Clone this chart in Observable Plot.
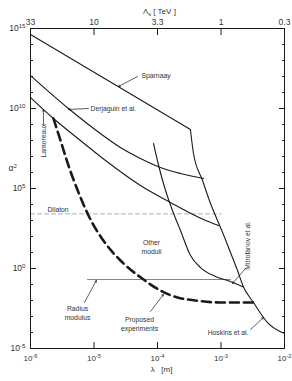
<!DOCTYPE html>
<html><head><meta charset="utf-8">
<script src="https://cdn.jsdelivr.net/npm/d3@7"></script>
<script src="https://cdn.jsdelivr.net/npm/@observablehq/plot@0.6"></script>
<style>html,body{margin:0;padding:0;background:#fff;} svg{display:block}</style>
</head><body><div id="chart"></div>
<script>
// ---- data (λ in metres, α² dimensionless) ----
const sparnaayLambda = [1e-6, 3.3e-4];
const sparnaayAlpha  = [4.2e14, 4.9e8];
const hoskinsLambda = [3.3e-4, 3.69e-4, 5.12e-4, 6.84e-4, 8.81e-4, 1.06e-3, 1.41e-3, 1.82e-3, 2.26e-3, 3.25e-3, 5.4e-3, 1e-2];
const hoskinsAlpha  = [4.9e8, 1.54e7, 3.16e5, 1.15e4, 1000, 178, 10, 0.75, 0.07, 7.5e-3, 4.2e-4, 8.7e-5];
const derjaguinLambda = [1e-6, 3.96e-6, 1.26e-5, 2.61e-5, 5.39e-5, 1.11e-4, 2.30e-4, 5.30e-4];
const derjaguinAlpha  = [1.15e12, 1e10, 2.74e8, 3.65e7, 7.5e6, 2.05e6, 8.66e5, 4.2e5];
const lamoreauxLambda = [1e-6, 2.30e-6, 6.12e-6, 1.52e-5, 5.39e-5, 1.60e-4, 5.30e-4, 9.14e-4];
const lamoreauxAlpha  = [4.87e10, 2.37e9, 1e8, 5.6e6, 1.54e5, 1.33e4, 1155, 487];
const mitrofanovLambda = [8.65e-5, 1.04e-4, 1.34e-4, 1.72e-4, 2.30e-4, 3.31e-4, 4.76e-4, 8.19e-4, 1.41e-3, 2.26e-3];
const mitrofanovAlpha  = [6.5e7, 2.74e6, 7.5e4, 4217, 237, 6.5, 1.15, 0.316, 0.154, 0.07];
const proposedLambda = [2.30e-6, 2.97e-6, 3.96e-6, 5.70e-6, 8.19e-6, 1.52e-5, 2.61e-5, 6.03e-5, 1.11e-4, 2.06e-4, 3.96e-4, 9.8e-4, 3.25e-3];
const proposedAlpha  = [2.37e9, 1e8, 2.74e6, 5.6e4, 2053, 36.5, 3.16, 0.205, 0.042, 0.0154, 0.01, 7.5e-3, 7.5e-3];
const dilatonLambda = [1e-6, 1e-3];
const dilatonAlpha  = [2600, 2600];
const radiusLambda = [7.9e-6, 1.41e-3];
const radiusAlpha  = [0.205, 0.205];

// ---- ticks ----
const xTicks = [1e-6, 1e-5, 1e-4, 1e-3, 1e-2];
const xInnerTicks = [1e-5, 1e-4, 1e-3];
const tevLabels = ["33", "10", "3.3", "1", "0.3"];
const yLabelTicks = [1e-5, 1, 1e5, 1e10, 1e15];
const yMajorTicks = [1, 1e5, 1e10];
const yMinorTicks = [1e-4,1e-3,1e-2,1e-1,1e1,1e2,1e3,1e4,1e6,1e7,1e8,1e9,1e11,1e12,1e13,1e14];

// ---- annotations ----
const labelsStart = [
  {text: "Sparnaay", x: 5.6e-5, y: 1.15e12},
  {text: "Derjaguin et al.", x: 8.8e-6, y: 1e10},
  {text: "Dilaton", x: 1.85e-6, y: 4.9e3}
];
const labelsMiddle = [
  {text: "Other\nmoduli", x: 8.05e-5, y: 22},
  {text: "Radius\nmodulus", x: 5.5e-6, y: 1.65e-3},
  {text: "Proposed\nexperiments", x: 5.21e-5, y: 3.65e-4}
];
const labelsEnd = [
  {text: "Hoskins et al.", x: 2.71e-3, y: 1e-4}
];
const vlabels = [
  {text: "Lamoreaux", x: 1.6e-6, y: 1e8},
  {text: "Mitrofanov et al.", x: 2.61e-3, y: 27.4}
];
const arrows = [
  {x1: 4.84e-5, y1: 1e12, x2: 2.43e-5, y2: 2.37e11},
  {x1: 8.19e-6, y1: 1e10, x2: 3.96e-6, y2: 8.7e9},
  {x1: 1.6e-6, y1: 1e9, x2: 1.6e-6, y2: 8.7e9},
  {x1: 7.08e-6, y1: 7.5e-3, x2: 1.09e-5, y2: 0.178},
  {x1: 7.76e-5, y1: 2.05e-3, x2: 1.24e-4, y2: 0.0237},
  {x1: 2.43e-3, y1: 1, x2: 1.52e-3, y2: 0.115},
  {x1: 2.92e-3, y1: 1.54e-4, x2: 4.67e-3, y2: 8.7e-4}
];

const series = (name, L, A) => L.map((l, i) => ({name, lambda: l, alpha: A[i]}));
const solid = [
  ...series("Sparnaay", sparnaayLambda, sparnaayAlpha),
  ...series("Hoskins", hoskinsLambda, hoskinsAlpha),
  ...series("Derjaguin", derjaguinLambda, derjaguinAlpha),
  ...series("Lamoreaux", lamoreauxLambda, lamoreauxAlpha),
  ...series("Mitrofanov", mitrofanovLambda, mitrofanovAlpha)
];
const proposed = series("Proposed", proposedLambda, proposedAlpha);
const dilaton = series("Dilaton", dilatonLambda, dilatonAlpha);
const radius = series("Radius", radiusLambda, radiusAlpha);

const ink = "#1a1a1a";
const textInk = "#333";
const fmtPow = d => `10^{${Math.round(Math.log10(d))}}`;
const tevFmt = d => tevLabels[xTicks.findIndex(t => Math.abs(Math.log10(t) - Math.log10(d)) < 1e-6)];
const tk = {fill: "none", stroke: ink, label: null};
const annFont = 6.8;
const ann = {x: "x", y: "y", text: "text", fontSize: annFont, fill: textInk, lineHeight: 1.3};

const svg = Plot.plot({
  width: 292, height: 381,
  marginTop: 28, marginBottom: 33, marginLeft: 30, marginRight: 8,
  style: {fontFamily: "'Liberation Sans', Arial, sans-serif", background: "#fff", color: ink},
  x: {type: "log", domain: [1e-6, 1e-2]},
  y: {type: "log", domain: [1e-5, 1e15]},
  marks: [
    Plot.line(dilaton, {x: "lambda", y: "alpha", stroke: "#999", strokeWidth: 0.8, strokeDasharray: "4,3"}),
    Plot.line(radius, {x: "lambda", y: "alpha", stroke: "#666", strokeWidth: 0.8}),
    Plot.line(solid, {x: "lambda", y: "alpha", z: "name", stroke: ink, strokeWidth: 1.1, curve: "monotone-x"}),
    Plot.line(proposed, {x: "lambda", y: "alpha", stroke: ink, strokeWidth: 2.6, strokeDasharray: "9,5", curve: "monotone-x"}),
    Plot.frame({stroke: ink, strokeWidth: 1}),
    Plot.axisY(yMinorTicks, {anchor: "left", tickSize: -3, ...tk}),
    Plot.axisY(yMajorTicks, {anchor: "left", tickSize: -6, ...tk}),
    Plot.axisY(yMinorTicks, {anchor: "right", tickSize: -3, ...tk}),
    Plot.axisY(yMajorTicks, {anchor: "right", tickSize: -6, ...tk}),
    Plot.axisX(xInnerTicks, {anchor: "bottom", tickSize: -6, ...tk}),
    Plot.axisX(xInnerTicks, {anchor: "top", tickSize: -6, ...tk}),
    Plot.axisY(yLabelTicks, {anchor: "left", tickSize: 0, tickPadding: 5, tickFormat: fmtPow, fontSize: 8.5, fill: textInk, label: null}),
    Plot.axisX(xTicks, {anchor: "bottom", tickSize: 0, tickPadding: 7, tickFormat: fmtPow, fontSize: 8, fill: textInk, label: null}),
    Plot.axisX(xTicks, {anchor: "top", tickSize: 0, tickPadding: 4, tickFormat: tevFmt, fontSize: 8.5, fill: textInk, label: null}),
    Plot.text(["Λ_{s} [ TeV ]"], {x: () => 1.07e-4, frameAnchor: "top", dy: -20, text: d => d, fontSize: 8, fill: textInk}),
    Plot.text(["λ\u00a0\u00a0\u00a0[m]"], {x: () => 1.16e-4, frameAnchor: "bottom", dy: 23, text: d => d, fontSize: 8, fill: textInk}),
    Plot.text(["α^{2}"], {y: () => 1.78e6, frameAnchor: "left", dx: -22, text: d => d, fontSize: 8.5, fill: textInk}),
    Plot.text(labelsStart, {...ann, textAnchor: "start"}),
    Plot.text(labelsMiddle, {...ann, textAnchor: "middle"}),
    Plot.text(labelsEnd, {...ann, textAnchor: "end"}),
    Plot.text(vlabels, {...ann, rotate: -90}),
    Plot.arrow(arrows, {x1: "x1", y1: "y1", x2: "x2", y2: "y2", stroke: ink, strokeWidth: 0.7, headLength: 4})
  ]
});

function richify(root) {
  root.querySelectorAll("text").forEach(t => {
    if (t.querySelector("tspan")) return;
    const s = t.textContent;
    if (!/[\^_]\{/.test(s)) return;
    t.textContent = "";
    const re = /([\^_])\{([^}]*)\}|([^\^_]+)/g;
    let m;
    while ((m = re.exec(s))) {
      const ts = document.createElementNS("http://www.w3.org/2000/svg", "tspan");
      if (m[1]) {
        ts.textContent = m[2];
        ts.setAttribute("font-size", "72%");
        ts.setAttribute("baseline-shift", m[1] === "^" ? "45%" : "-25%");
      } else ts.textContent = m[3];
      t.appendChild(ts);
    }
  });
}
richify(svg);
document.getElementById("chart").appendChild(svg);
</script>
</body></html>
